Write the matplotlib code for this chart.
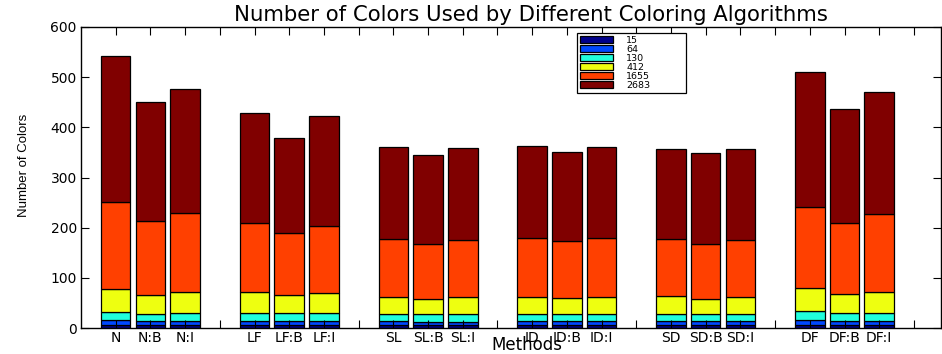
import matplotlib
matplotlib.use("Agg")
import matplotlib.pyplot as plt
import numpy as np

# coloring methods, three variants each
groups = ["N", "LF", "SL", "ID", "SD", "DF"]
variants = ["", ":B", ":I"]

# graph sizes (one stacked segment per graph)
graph_sizes = ["15", "64", "130", "412", "1655", "2683"]

# number of colors used, per graph, in bar order N, N:B, N:I, LF, ... DF:I
colors_15 = [5, 5, 5, 5, 5, 5, 5, 5, 5, 5, 5, 5, 5, 5, 5, 6, 5, 5]
colors_64 = [10, 8, 9, 9, 8, 9, 8, 7, 7, 8, 8, 8, 8, 8, 8, 10, 9, 8]
colors_130 = [16, 14, 15, 15, 16, 15, 14, 15, 15, 14, 14, 14, 15, 14, 14, 17, 15, 16]
colors_412 = [46, 39, 42, 42, 36, 40, 34, 31, 34, 34, 33, 34, 36, 31, 34, 46, 38, 42]
colors_1655 = [175, 148, 158, 138, 125, 135, 116, 110, 115, 118, 113, 118, 113, 110, 115, 163, 143, 157]
colors_2683 = [290, 236, 247, 219, 188, 218, 183, 177, 183, 183, 177, 182, 180, 180, 180, 268, 226, 242]

series = [colors_15, colors_64, colors_130, colors_412, colors_1655, colors_2683]
seg_colors = ["#00008c", "#0048ff", "#20ffdc", "#eeff10", "#ff4000", "#800000"]

# bar positions: 3 bars per group, one empty slot between groups
positions = []
labels = []
for g, name in enumerate(groups):
    for k, v in enumerate(variants):
        positions.append(g * 4 + k + 1)
        labels.append(name + v)
positions = np.array(positions)

fig = plt.figure(figsize=(9.42, 3.54), dpi=100)
ax = fig.add_axes([81 / 942, 26 / 354, 860 / 942, 301 / 354])

bottom = np.zeros(len(positions))
for vals, col, lab in zip(series, seg_colors, graph_sizes):
    ax.bar(positions, vals, width=0.85, bottom=bottom, color=col,
           edgecolor="black", linewidth=0.9, label=lab)
    bottom += np.array(vals)

ax.set_xlim(0, 24.78)
ax.set_ylim(0, 600)
ax.set_yticks(np.arange(0, 601, 100))

# one tick per slot, labels only under the bars
ticks = np.arange(1, 25)
tick_labels = [""] * len(ticks)
for p, lab in zip(positions, labels):
    tick_labels[p - 1] = lab
ax.set_xticks(ticks)
ax.set_xticklabels(tick_labels, fontsize=8.5)

ax.tick_params(direction="in", length=6, width=0.8, top=True, right=True,
               labelsize=10, pad=3)
ax.tick_params(axis="x", pad=2)
for s in ax.spines.values():
    s.set_linewidth(1.0)

ax.set_title("Number of Colors Used by Different Coloring Algorithms",
             fontsize=15.3, x=0.523, pad=4)
ax.set_xlabel("Methods", fontsize=12, va="baseline")
ax.xaxis.set_label_coords(0.518, -0.0731)
ax.set_ylabel("Number of Colors", fontsize=9.5, family="Liberation Sans")
ax.yaxis.set_label_coords(-0.059, 0.54)

leg = ax.legend(loc="upper left", bbox_to_anchor=(0.5767, 0.5, 0.1267, 0.48),
                mode="expand", fontsize=6.8,
                frameon=True, fancybox=False, edgecolor="black", framealpha=1,
                handlelength=3.5, handleheight=0.8, labelspacing=0.0,
                borderpad=0.3, handletextpad=1.4, borderaxespad=0)
leg.get_frame().set_linewidth(0.9)

fig.savefig("out.png", dpi=100)
